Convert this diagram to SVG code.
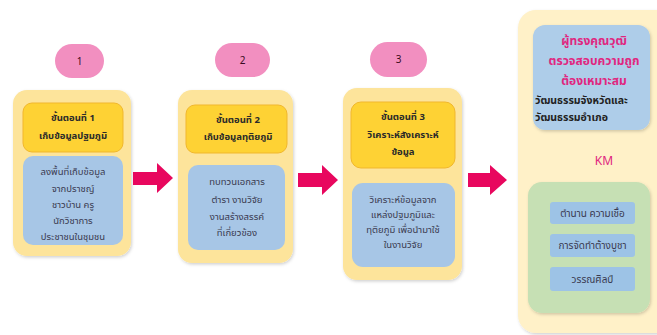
<svg xmlns="http://www.w3.org/2000/svg" width="657" height="335" viewBox="0 0 657 335">
<defs>
<filter id="sh" x="-20%" y="-20%" width="140%" height="140%">
<feDropShadow dx="1" dy="1.5" stdDeviation="1.5" flood-color="#000" flood-opacity="0.18"/>
</filter>
<style>
text{font-family:"Noto Sans Thai","Noto Sans","DejaVu Sans",sans-serif;text-anchor:middle}
.pill{fill:#F28FC0}
.num{font-size:10px;fill:#3a0a20}
.outer{fill:#FDE49B}
.head{fill:#FED234;stroke:#F1B72C;stroke-width:1}
.body{fill:#A7C6E6}
.ht{font-size:9.5px;font-weight:bold;fill:#2a2a2a}
.bt{font-size:9.5px;fill:#3a3a50}
.arrow{fill:#E8075E}
.pk{font-size:12px;font-weight:bold;fill:#E0267F}
.bk{font-size:10.5px;font-weight:bold;fill:#222;text-anchor:start}
.it{font-size:10px;fill:#3a3a50}
.item{fill:#9DC3E6}
</style>
</defs>
<rect width="657" height="335" fill="#fff"/>

<g id="step1">
<rect class="pill" x="55" y="44" width="49" height="34" rx="17"/>
<text class="num" x="79.5" y="64.5">1</text>
<rect class="outer" x="13" y="90" width="118" height="166" rx="14" filter="url(#sh)"/>
<rect class="head" x="23" y="103" width="100" height="49" rx="9"/>
<text class="ht" x="73" y="121">ขั้นตอนที่ 1</text>
<text class="ht" x="73" y="139">เก็บข้อมูลปฐมภูมิ</text>
<rect class="body" x="23" y="156" width="100" height="89" rx="10"/>
<text class="bt" x="73" y="175">ลงพื้นที่เก็บข้อมูล</text>
<text class="bt" x="73" y="192">จากปราชญ์</text>
<text class="bt" x="73" y="208">ชาวบ้าน ครู</text>
<text class="bt" x="73" y="224">นักวิชาการ</text>
<text class="bt" x="73" y="240">ประชาชนในชุมชน</text>
</g>

<g id="step2">
<rect class="pill" x="215" y="43" width="55" height="34" rx="17"/>
<text class="num" x="242.5" y="63.5">2</text>
<rect class="outer" x="178" y="90" width="115" height="173" rx="14" filter="url(#sh)"/>
<rect class="head" x="186" y="105" width="101" height="48" rx="9"/>
<text class="ht" x="238" y="123">ขั้นตอนที่ 2</text>
<text class="ht" x="238" y="140">เก็บข้อมูลทุติยภูมิ</text>
<rect class="body" x="188" y="165" width="97" height="85" rx="10"/>
<text class="bt" x="237" y="185">ทบทวนเอกสาร</text>
<text class="bt" x="237" y="203">ตำรา งานวิจัย</text>
<text class="bt" x="237" y="220">งานสร้างสรรค์</text>
<text class="bt" x="237" y="236">ที่เกี่ยวข้อง</text>
</g>

<g id="step3">
<rect class="pill" x="370" y="42" width="57" height="35" rx="17.5"/>
<text class="num" x="398.5" y="63">3</text>
<rect class="outer" x="343" y="88" width="119" height="192" rx="14" filter="url(#sh)"/>
<rect class="head" x="351" y="102" width="104" height="66" rx="10"/>
<text class="ht" x="403" y="120">ขั้นตอนที่ 3</text>
<text class="ht" x="403" y="138">วิเคราะห์สังเคราะห์</text>
<text class="ht" x="403" y="155">ข้อมูล</text>
<rect class="body" x="352" y="183" width="103" height="84" rx="11"/>
<text class="bt" x="403" y="203">วิเคราะห์ข้อมูลจาก</text>
<text class="bt" x="403" y="218">แหล่งปฐมภูมิและ</text>
<text class="bt" x="403" y="233">ทุติยภูมิ เพื่อนำมาใช้</text>
<text class="bt" x="403" y="248">ในงานวิจัย</text>
</g>

<g id="km">
<rect x="518" y="10" width="160" height="323" rx="18" fill="#FFF1C8" filter="url(#sh)"/>
<rect x="533" y="25" width="117" height="105" rx="12" fill="#AECDE9" filter="url(#sh)"/>
<text class="pk" x="594" y="45">ผู้ทรงคุณวุฒิ</text>
<text class="pk" x="594" y="65">ตรวจสอบความถูก</text>
<text class="pk" x="594" y="85">ต้องเหมาะสม</text>
<text class="bk" x="535" y="104">วัฒนธรรมจังหวัดและ</text>
<text class="bk" x="535" y="121">วัฒนธรรมอำเภอ</text>
<text x="604" y="165" font-size="12" fill="#E0267F">KM</text>
<rect x="528" y="182" width="122" height="131" rx="14" fill="#C6E0B4" filter="url(#sh)"/>
<rect class="item" x="550" y="202" width="85" height="22" rx="3"/>
<text class="it" x="592.5" y="216.5">ตำนาน ความเชื่อ</text>
<rect class="item" x="550" y="234" width="85" height="23" rx="3"/>
<text class="it" x="592.5" y="249">การจัดทำต้างบูชา</text>
<rect class="item" x="550" y="267" width="85" height="24" rx="3"/>
<text class="it" x="592.5" y="282.5">วรรณศิลป์</text>
</g>

<g id="connectors">
<polygon class="arrow" points="133,172 157,172 157,163 173,178 157,193 157,185 133,185"/>
<polygon class="arrow" points="298,173 322,173 322,165 338,180 322,195 322,187 298,187"/>
<polygon class="arrow" points="468,173 490,173 490,165 507,180 490,195 490,187 468,187"/>
</g>
</svg>
